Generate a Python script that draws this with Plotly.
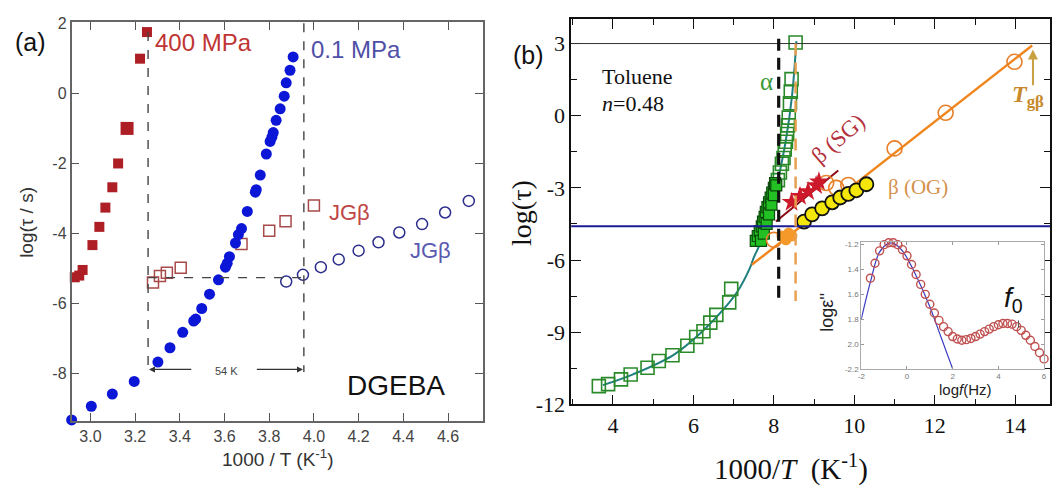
import plotly.graph_objects as go

W, H = 1056, 498
def px(x): return x / W
def py(y): return 1 - y / H

SANS = "Liberation Sans, Arial, sans-serif"
SERIF = "Liberation Serif, Times New Roman, serif"

# ---------------- Panel (a) data: DGEBA ----------------
hp_alpha_x = [2.93, 2.95, 2.965, 3.009, 3.04, 3.067, 3.098, 3.124, 3.164, 3.222, 3.253]
hp_alpha_y = [-5.25, -5.2, -5.04, -4.33, -3.81, -3.26, -2.68, -2.0, -1.0, 0.99, 1.75]
hp_alpha_s = [10, 10, 10, 10, 10, 10, 10, 10, 13, 10, 10]
hp_jg_x = [3.28, 3.311, 3.342, 3.404, 3.676, 3.80, 3.873, 4.0]
hp_jg_y = [-5.4, -5.21, -5.12, -4.98, -4.3, -3.92, -3.65, -3.2]
lp_alpha_x = [2.916, 3.004, 3.098, 3.196, 3.302, 3.356, 3.413, 3.462, 3.471, 3.498, 3.533,
              3.573, 3.604, 3.612, 3.622, 3.649, 3.662, 3.676, 3.702, 3.738, 3.742, 3.76,
              3.787, 3.804, 3.812, 3.818, 3.831, 3.849, 3.867, 3.876, 3.893, 3.907]
lp_alpha_y = [-9.32, -8.93, -8.58, -8.22, -7.67, -7.26, -6.82, -6.5, -6.44, -6.14, -5.73,
              -5.32, -4.96, -4.85, -4.66, -4.27, -4.03, -3.86, -3.37, -2.82, -2.75, -2.33,
              -1.73, -1.37, -1.25, -1.12, -0.77, -0.44, -0.08, 0.30, 0.66, 1.04]
lp_jg_x = [3.876, 3.951, 4.031, 4.111, 4.2, 4.289, 4.382, 4.484, 4.587, 4.693]
lp_jg_y = [-5.37, -5.18, -4.96, -4.74, -4.49, -4.25, -3.97, -3.73, -3.4, -3.07]
a_xticks = [3.0, 3.2, 3.4, 3.6, 3.8, 4.0, 4.2, 4.4, 4.6]
a_yticks = [2, 0, -2, -4, -6, -8]

# ---------------- Panel (b) data: Toluene ----------------
alpha_open_x = [3.65, 3.88, 4.2, 4.44, 4.86, 5.14, 5.48, 5.85, 6.07, 6.25, 6.42, 6.57, 6.89, 6.94,
                8.10, 8.15, 8.20, 8.24, 8.27, 8.30, 8.33, 8.35, 8.37, 8.40, 8.42, 8.44, 8.54]
alpha_open_y = [-11.24, -11.16, -10.96, -10.76, -10.48, -10.2, -9.96, -9.56, -9.2, -8.96, -8.6, -8.28, -7.76, -7.2,
                -2.68, -2.36, -2.0, -1.76, -1.4, -1.08, -0.76, -0.4, -0.08, 0.52, 1.0, 1.52, 3.04]
alpha_fill_x = [7.55, 7.6, 7.65, 7.7, 7.73, 7.77, 7.8, 7.84, 7.88, 7.92, 7.96, 8.0, 8.03,
                7.68, 7.75, 7.82, 7.88, 7.94, 8.0, 8.06]
alpha_fill_y = [-5.2, -5.0, -4.8, -4.6, -4.4, -4.2, -4.0, -3.8, -3.6, -3.4, -3.2, -3.0, -2.8,
                -5.2, -4.9, -4.5, -4.1, -3.7, -3.3, -2.9]
vft_x = [3.75, 4.5, 5.5, 6.2, 6.8, 7.1, 7.4, 7.5, 7.65, 7.9, 8.1, 8.3, 8.45, 8.56]
vft_y = [-11.2, -10.75, -9.95, -9.0, -7.95, -7.3, -6.35, -5.9, -5.35, -4.1, -2.7, -1.0, 0.8, 3.1]
beta_line_x = [7.45, 14.42]
beta_line_y = [-6.2, 2.92]
beta_open_x = [8.0, 9.3, 9.55, 9.85, 11.0, 12.27, 13.98]
beta_open_y = [-5.16, -2.8, -3.0, -2.88, -1.36, 0.12, 2.24]
beta_fill_x = [8.2, 8.3, 8.37, 8.45]
beta_fill_y = [-5.0, -5.16, -4.88, -5.0]
sg_line_x = [8.05, 9.6]
sg_line_y = [-4.4, -2.28]
sg_x = [8.44, 8.65, 8.85, 9.05, 9.12]
sg_y = [-3.6, -3.35, -3.15, -2.9, -2.75]
og_x = [8.75, 8.95, 9.2, 9.45, 9.65, 9.85, 10.05, 10.3]
og_y = [-4.4, -4.1, -3.85, -3.6, -3.4, -3.25, -3.1, -2.85]
b_xticks = [4, 6, 8, 10, 12, 14]
b_yticks = [3, 0, -3, -6, -9, -12]

# ---------------- Inset data ----------------
eps_x = [-1.6, -1.4, -1.2, -1.0, -0.8, -0.6, -0.4, -0.2, 0.0, 0.2, 0.4, 0.6, 0.8, 1.0, 1.2, 1.4,
         1.6, 1.8, 2.0, 2.2, 2.4, 2.6, 2.8, 3.0, 3.2, 3.4, 3.6, 3.8, 4.0, 4.2, 4.4, 4.6, 4.8,
         5.0, 5.2, 5.4, 5.6, 5.8, 6.0]
eps_y = [-1.47, -1.35, -1.25, -1.2, -1.185, -1.185, -1.2, -1.24, -1.29, -1.36, -1.44, -1.52,
         -1.6, -1.68, -1.75, -1.81, -1.86, -1.9, -1.94, -1.96, -1.97, -1.965, -1.955, -1.94,
         -1.92, -1.9, -1.88, -1.86, -1.845, -1.835, -1.835, -1.84, -1.86, -1.89, -1.93, -1.97,
         -2.02, -2.07, -2.12]
fit_x = [-2.0, -1.6, -1.2, -0.8, -0.6, -0.2, 0.4, 1.0, 1.5, 2.0]
fit_y = [-1.8, -1.5, -1.26, -1.19, -1.19, -1.25, -1.45, -1.7, -1.95, -2.2]
in_xticks = [-2, 0, 2, 4, 6]
in_yticks = [-1.2, -1.4, -1.6, -1.8, -2.0, -2.2]
in_yticktext = ["-1.2", "1.4", "1.6", "1.8", "2.0", "-2.2"]

fig = go.Figure()

def add(x, y, xa, ya, **kw):
    fig.add_trace(go.Scatter(x=x, y=y, xaxis=xa, yaxis=ya, cliponaxis=False,
                             showlegend=False, hoverinfo="skip", **kw))

# panel (a)
add(hp_alpha_x, hp_alpha_y, "x", "y", mode="markers",
    marker=dict(symbol="square", size=hp_alpha_s, opacity=1, color="#ad1f25", line=dict(width=0)))
add(hp_jg_x, hp_jg_y, "x", "y", mode="markers",
    marker=dict(symbol="square-open", size=11, color="#a84a4a", line=dict(width=1.5)))
add(lp_alpha_x, lp_alpha_y, "x", "y", mode="markers",
    marker=dict(symbol="circle", size=11, color="#0c16d6", line=dict(width=0)))
add(lp_jg_x, lp_jg_y, "x", "y", mode="markers",
    marker=dict(symbol="circle-open", size=11, color="#2b2d8c", line=dict(width=1.5)))

# panel (b)
add(vft_x, vft_y, "x2", "y2", mode="lines", line=dict(color="#1f7f7f", width=2, shape="spline"))
add(beta_line_x, beta_line_y, "x2", "y2", mode="lines", line=dict(color="#f0861e", width=2.5))
add(sg_line_x, sg_line_y, "x2", "y2", mode="lines", line=dict(color="#8b0a14", width=2))
add(alpha_open_x, alpha_open_y, "x2", "y2", mode="markers",
    marker=dict(symbol="square-open", size=13, color="#2a8a2a", line=dict(width=1.6)))
add(alpha_fill_x, alpha_fill_y, "x2", "y2", mode="markers",
    marker=dict(symbol="square", size=11, color="#22c022", line=dict(width=1.2, color="#0a4a0a")))
add(beta_open_x, beta_open_y, "x2", "y2", mode="markers",
    marker=dict(symbol="circle-open", size=15, color="#e8802a", line=dict(width=1.6)))
add(beta_fill_x, beta_fill_y, "x2", "y2", mode="markers",
    marker=dict(symbol="circle", size=11, color="#f59a2a", line=dict(width=0)))
add(sg_x, sg_y, "x2", "y2", mode="markers",
    marker=dict(symbol="star", size=15, color="#cc1a2a", line=dict(width=0)))
add(og_x, og_y, "x2", "y2", mode="markers",
    marker=dict(symbol="circle", size=14, color="#f5e60a", line=dict(width=1.8, color="#111111")))

# inset
add(fit_x, fit_y, "x3", "y3", mode="lines", line=dict(color="#3a3ac0", width=1.2, shape="spline"))
add(eps_x, eps_y, "x3", "y3", mode="markers",
    marker=dict(symbol="circle-open", size=8, color="#c05050", line=dict(width=1.4)))

axa_common = dict(showgrid=False, zeroline=False, showline=True, linecolor="#666666", linewidth=1.5,
                  mirror="ticks", ticks="inside", ticklen=8, tickwidth=1.3, tickcolor="#555555",
                  tickfont=dict(family=SANS, size=16, color="#444444"))
axb_common = dict(showgrid=False, zeroline=False, showline=True, linecolor="#111111", linewidth=1.5,
                  mirror="ticks", ticks="inside", ticklen=10, tickwidth=1.3, tickcolor="#111111",
                  tickfont=dict(family=SERIF, size=22, color="#111111"))
axi_common = dict(showgrid=False, zeroline=False, showline=True, linecolor="#aaaaaa", linewidth=1,
                  mirror="ticks", ticks="inside", ticklen=3, tickwidth=0.8, tickcolor="#999999",
                  tickfont=dict(family=SANS, size=8, color="#777777"))

fig.update_layout(
    width=W, height=H, autosize=False,
    margin=dict(l=0, r=0, t=0, b=0, pad=0),
    paper_bgcolor="white", plot_bgcolor="white",
    xaxis=dict(domain=[px(68), px(482)], range=[2.9156, 4.7556], anchor="y",
               tickmode="array", tickvals=a_xticks, ticktext=[f"{v:.1f}" for v in a_xticks], **axa_common),
    yaxis=dict(domain=[py(431), py(16)], range=[-9.342, 2.027], anchor="x",
               tickmode="array", tickvals=a_yticks, ticktext=[str(v) for v in a_yticks], **axa_common),
    xaxis2=dict(domain=[px(571), px(1053)], range=[2.963, 14.864], anchor="y2",
                tickmode="array", tickvals=b_xticks, ticktext=[str(v) for v in b_xticks],
                minor=dict(tickmode="array", tickvals=[3, 5, 7, 9, 11, 13], ticks="inside", ticklen=6,
                           tickwidth=1.2, tickcolor="#111111"),
                **axb_common),
    yaxis2=dict(domain=[py(414), py(13)], range=[-12, 4], anchor="x2",
                tickmode="array", tickvals=b_yticks, ticktext=[str(v) for v in b_yticks],
                minor=dict(tickmode="array", tickvals=[1.5, -1.5, -4.5, -7.5, -10.5], ticks="inside",
                           ticklen=6, tickwidth=1.2, tickcolor="#111111"),
                **axb_common),
    xaxis3=dict(domain=[px(863), px(1047)], range=[-2, 6], anchor="y3",
                tickmode="array", tickvals=in_xticks, ticktext=[str(v) for v in in_xticks], **axi_common),
    yaxis3=dict(domain=[py(377), py(245)], range=[-2.2, -1.18], anchor="x3",
                tickmode="array", tickvals=in_yticks, ticktext=in_yticktext, **axi_common),
)

shapes = []
dash_a = dict(color="#444444", width=1.4, dash="dash")
shapes.append(dict(type="line", xref="x", yref="y", x0=3.258, x1=3.258, y0=1.75, y1=-7.95, line=dash_a))
shapes.append(dict(type="line", xref="x", yref="y", x0=3.955, x1=3.955, y0=2.0, y1=-7.95, line=dash_a))
shapes.append(dict(type="line", xref="x", yref="y", x0=3.258, x1=3.955, y0=-5.26, y1=-5.26, line=dash_a))
# panel b reference lines
shapes.append(dict(type="line", xref="x2 domain", yref="y2", x0=0, x1=1, y0=3, y1=3,
                   line=dict(color="#333333", width=1)))
shapes.append(dict(type="line", xref="x2 domain", yref="y2", x0=0, x1=1, y0=-4.6, y1=-4.6,
                   line=dict(color="#1c1c96", width=2)))
shapes.append(dict(type="line", xref="x2", yref="y2", x0=8.12, x1=8.12, y0=3.2, y1=-7.7,
                   line=dict(color="#111111", width=3.2, dash="12px,7px")))
shapes.append(dict(type="line", xref="x2", yref="y2", x0=8.54, x1=8.54, y0=3.0, y1=-7.7,
                   line=dict(color="#e8a050", width=2.5, dash="12px,7px")))
shapes.append(dict(type="line", xref="x3", yref="y3", x0=4.88, x1=4.88, y0=-1.81, y1=-1.87,
                   line=dict(color="#555555", width=1)))
fig.update_layout(shapes=shapes)

ann = []
def text(x, y, t, size, color="#111111", family=SANS, xanchor="center", angle=0):
    ann.append(dict(x=px(x), y=py(y), xref="paper", yref="paper", text=t, showarrow=False,
                    xanchor=xanchor, yanchor="middle", textangle=angle,
                    font=dict(family=family, size=size, color=color)))

# panel (a) texts
text(27, 36, "(a)", 25)
text(150, 37, "400 MPa", 24, "#c03434", xanchor="left")
text(307, 44, "0.1 MPa", 24, "#4f4fa8", xanchor="left")
text(325, 214, "JGβ", 22, "#c04545", xanchor="left")
text(407, 254, "JGβ", 22, "#5a5ab0", xanchor="left")
text(395, 394, "DGEBA", 28, "#111111")
text(224, 379, "54 K", 11, "#444444")
text(275, 470, "1000 / T (K<sup>-1</sup>)", 19, "#333333")
text(22, 224, "log(τ / s)", 19, "#333333", angle=-90)

# panel (b) texts
text(528, 50, "(b)", 25)
text(600, 72, "Toluene", 22, family=SERIF, xanchor="left")
text(600, 101, "<i>n</i>=0.48", 22, family=SERIF, xanchor="left")
text(768, 78, "α", 25, "#3a9a3a", family=SERIF)
text(840, 137, "β (SG)", 23, "#b5303d", family=SERIF, angle=-41)
text(920, 188, "β (OG)", 21, "#d4914c", family=SERIF)
text(1031, 93, "<b><i>T</i></b><sub><b>gβ</b></sub>", 24, "#c8892a", family=SERIF)
text(792, 480, "1000/<i>T</i>  (K<sup>-1</sup>)", 29, family=SERIF)
text(521, 215, "log(τ)", 28, family=SERIF, angle=-90)
# inset texts
text(829, 318, "logε''", 18, "#222222", angle=-90)
text(968, 399, "log<i>f</i>(Hz)", 15, "#222222")
text(1016, 305, "<i>f</i><sub>0</sub>", 28, "#111111")

# arrows
ann.append(dict(x=3.262, y=-7.88, ax=3.458, ay=-7.88, xref="x", yref="y", axref="x", ayref="y",
                text="", showarrow=True, arrowhead=2, arrowsize=1, arrowwidth=1.2, arrowcolor="#333333"))
ann.append(dict(x=3.951, y=-7.88, ax=3.738, ay=-7.88, xref="x", yref="y", axref="x", ayref="y",
                text="", showarrow=True, arrowhead=2, arrowsize=1, arrowwidth=1.2, arrowcolor="#333333"))
ann.append(dict(x=14.44, y=2.75, ax=14.44, ay=1.2, xref="x2", yref="y2", axref="x2", ayref="y2",
                text="", showarrow=True, arrowhead=2, arrowsize=1, arrowwidth=2, arrowcolor="#c8a040"))
fig.update_layout(annotations=ann)

fig.write_html("out.html")
